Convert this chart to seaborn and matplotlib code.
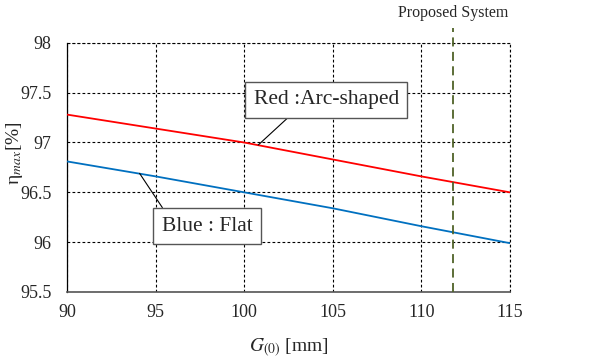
import matplotlib
matplotlib.use("Agg")
import matplotlib.pyplot as plt
import seaborn as sns
import pandas as pd

gap_mm = [90, 95, 100, 105, 110, 115]
eta_arc = [97.28, 97.14, 97.00, 96.83, 96.66, 96.50]
eta_flat = [96.81, 96.66, 96.50, 96.34, 96.16, 95.99]
proposed_gap = 111.8
x_ticks = [90, 95, 100, 105, 110, 115]
y_ticks = [95.5, 96, 96.5, 97, 97.5, 98]

sns.set_style("white")
plt.rcParams['font.family'] = ['Liberation Serif', 'DejaVu Serif']
plt.rcParams['mathtext.fontset'] = 'stix'

df = pd.DataFrame({
    "gap": gap_mm * 2,
    "eta": eta_arc + eta_flat,
    "shape": ["Arc"] * len(gap_mm) + ["Flat"] * len(gap_mm),
})

fig = plt.figure(figsize=(6.09, 3.60), dpi=100)
ax = fig.add_axes([0.110, 0.189, 0.727, 0.692])

sns.lineplot(data=df, x="gap", y="eta", hue="shape",
             palette={"Arc": "#FF0000", "Flat": "#0070C0"},
             linewidth=1.3, legend=False, ax=ax, zorder=3)

ax.set_xlim(90, 115)
ax.set_ylim(95.5, 98)
ax.set_xticks(x_ticks)
ax.set_xticklabels([str(t) for t in x_ticks])
ax.set_yticks(y_ticks)
ax.set_yticklabels([f"{t:g}" for t in y_ticks])
ax.tick_params(axis='both', labelsize=13, length=0)
ax.tick_params(axis='y', pad=11)
ax.tick_params(axis='x', pad=9)

ax.grid(True, color='black', linestyle=(0, (2.5, 2)), linewidth=0.8)
for s in ['top', 'right']:
    ax.spines[s].set_visible(False)
ax.spines['left'].set_color('black')
ax.spines['bottom'].set_color('#555555')
ax.spines['left'].set_linewidth(0.9)
ax.spines['bottom'].set_linewidth(1.2)
ax.axhline(98, color='black', linestyle=(0, (2.5, 2)), linewidth=0.8, clip_on=False)
ax.axvline(115, color='black', linestyle=(0, (2.5, 2)), linewidth=0.8, clip_on=False)

ax.set_xlabel(r"$G_{(0)}$ [mm]", fontsize=14, labelpad=11)
ax.set_ylabel(r"η$_{max}$[%]", fontsize=14, va='center')
ax.yaxis.set_label_coords(-0.118, 0.558)

ax.plot([proposed_gap, proposed_gap], [95.5, 98.15], color='#4F6228',
        linestyle=(0, (5, 3)), linewidth=1.3, clip_on=False, zorder=4)
ax.text(proposed_gap, 98.30, "Proposed System", ha='center', va='center',
        fontsize=11.5)

box = dict(boxstyle='square,pad=0.4', facecolor='white', edgecolor='#555555', linewidth=1)
ax.annotate("Red :Arc-shaped", xy=(100.8, 96.975), xytext=(104.64, 97.43),
            fontsize=15.5, ha='center', va='center', bbox=box, zorder=5,
            arrowprops=dict(arrowstyle='-', color='black', linewidth=0.8,
                            shrinkA=0, shrinkB=0, relpos=(0.3, 0)))
ax.annotate("Blue : Flat", xy=(94.1, 96.69), xytext=(97.93, 96.16),
            fontsize=15.5, ha='center', va='center', bbox=box, zorder=5,
            arrowprops=dict(arrowstyle='-', color='black', linewidth=0.8,
                            shrinkA=0, shrinkB=0, relpos=(0.07, 1)))

fig.savefig("out.png", dpi=100)
